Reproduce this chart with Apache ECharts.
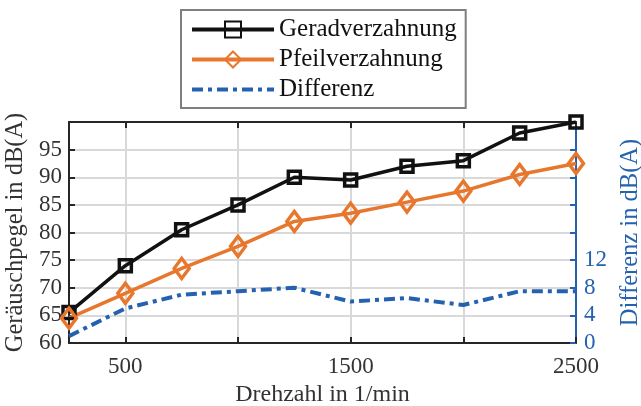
<!DOCTYPE html>
<html><head><meta charset="utf-8">
<script src="https://cdn.jsdelivr.net/npm/echarts@6/dist/echarts.min.js"></script>
<style>html,body{margin:0;padding:0;background:#fff}#c{width:641px;height:406px}</style>
</head><body><div id="c"></div>
<script>
var drehzahl = [250, 500, 750, 1000, 1250, 1500, 1750, 2000, 2250, 2500];
var gerad = [65.5, 74, 80.5, 85, 90, 89.5, 92, 93, 98, 100];
var pfeil = [64.5, 69, 73.5, 77.5, 82, 83.5, 85.5, 87.5, 90.5, 92.5];
var differenz = [1, 5, 7, 7.5, 8, 6, 6.5, 5.5, 7.5, 7.5];
var xTicks = [500, 1000, 1500, 2000, 2500];
var xLabels = [500, 1500, 2500];

var FONT = 'Liberation Serif';
var DARK = '#262626';
var BLUE = '#2462B0';
var ORANGE = '#E8772E';
function pairs(xs, ys){ return xs.map(function(x,i){return [x, ys[i]];}); }

var chart = echarts.init(document.getElementById('c'), null, {renderer:'canvas'});
chart.setOption({
  animation: false,
  backgroundColor: '#fff',
  textStyle: {fontFamily: FONT},
  grid: {left: 69, right: 65, top: 122, bottom: 63, containLabel: false, outerBoundsMode: 'none'},
  legend: {
    orient: 'vertical', left: 181, top: 10,
    padding: [7, 9, 6, 9],
    borderColor: '#7f7f7f', borderWidth: 2, backgroundColor: '#fff',
    itemWidth: 82, itemHeight: 20, itemGap: 5,
    textStyle: {fontFamily: FONT, fontSize: 25, color: '#111', lineHeight: 24},
    data: [
      {name: 'Geradverzahnung', lineStyle: {width: 4}},
      {name: 'Pfeilverzahnung', lineStyle: {width: 4}},
      {name: 'Differenz', lineStyle: {width: 4}, itemStyle: {opacity: 0}}
    ]
  },
  xAxis: [{
    type: 'value', min: 250, max: 2500, position: 'bottom',
    name: 'Drehzahl in 1/min', nameLocation: 'middle', nameGap: 37,
    nameTextStyle: {fontFamily: FONT, fontSize: 24, color: '#333'},
    axisLine: {show: true, lineStyle: {color: DARK, width: 2}},
    axisTick: {show: true, inside: true, length: 6, customValues: xTicks, lineStyle: {color: DARK, width: 2}},
    axisLabel: {customValues: xLabels, fontFamily: FONT, fontSize: 23, color: '#333', margin: 12,
      formatter: function(v){ return String(v); }},
    splitLine: {show: true, lineStyle: {color: '#d9d9d9', width: 2}}
  }, {
    type: 'value', min: 250, max: 2500, position: 'top',
    axisLine: {show: true, lineStyle: {color: DARK, width: 2}},
    axisTick: {show: true, inside: true, length: 6, customValues: xTicks, lineStyle: {color: DARK, width: 2}},
    axisLabel: {show: false},
    splitLine: {show: false}
  }],
  yAxis: [{
    type: 'value', min: 60, max: 100, interval: 5, position: 'left',
    name: 'Geräuschpegel in dB(A)', nameLocation: 'middle', nameGap: 35,
    nameTextStyle: {fontFamily: FONT, fontSize: 24.5, color: '#333'},
    axisLine: {show: true, lineStyle: {color: DARK, width: 2}},
    axisTick: {show: true, inside: true, length: 6, lineStyle: {color: DARK, width: 2}},
    axisLabel: {fontFamily: FONT, fontSize: 23, color: '#333', margin: 7,
      formatter: function(v){ return v < 100 ? String(v) : ''; }},
    splitLine: {show: true, lineStyle: {color: '#d9d9d9', width: 2}}
  }, {
    type: 'value', min: 0, max: 32, interval: 4, position: 'right',
    name: 'Differenz in dB(A)', nameLocation: 'middle', nameGap: 40, nameRotate: 90,
    nameTextStyle: {fontFamily: FONT, fontSize: 24.5, color: BLUE},
    axisLine: {show: true, lineStyle: {color: BLUE, width: 2}},
    axisTick: {show: true, inside: true, length: 6, lineStyle: {color: BLUE, width: 2}},
    axisLabel: {fontFamily: FONT, fontSize: 23, color: BLUE, margin: 8,
      formatter: function(v){ return v <= 12 ? String(v) : ''; }},
    splitLine: {show: false}
  }],
  series: [{
    name: 'Geradverzahnung', type: 'line', xAxisIndex: 0, yAxisIndex: 0,
    data: pairs(drehzahl, gerad),
    symbol: 'rect', symbolSize: 12, showAllSymbol: true,
    lineStyle: {color: '#111', width: 3.5},
    itemStyle: {color: 'rgba(0,0,0,0)', borderColor: '#111', borderWidth: 3.5},
    color: '#111'
  }, {
    name: 'Pfeilverzahnung', type: 'line', xAxisIndex: 0, yAxisIndex: 0,
    data: pairs(drehzahl, pfeil),
    symbol: 'diamond', symbolSize: [15, 20], showAllSymbol: true,
    lineStyle: {color: ORANGE, width: 3.5},
    itemStyle: {color: 'rgba(0,0,0,0)', borderColor: ORANGE, borderWidth: 3.5},
    color: ORANGE
  }, {
    name: 'Differenz', type: 'line', xAxisIndex: 0, yAxisIndex: 1,
    data: pairs(drehzahl, differenz),
    symbol: 'none', z: 1,
    lineStyle: {color: BLUE, width: 4, type: [11, 5, 4, 5]},
    itemStyle: {color: BLUE},
    color: BLUE
  }]
});
</script></body></html>
